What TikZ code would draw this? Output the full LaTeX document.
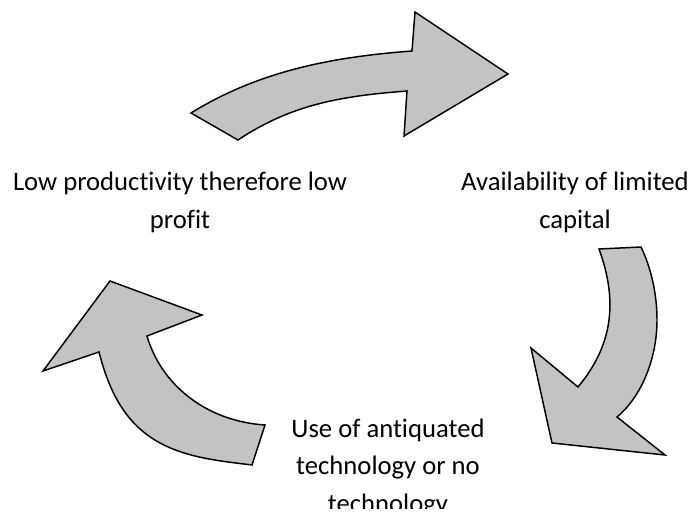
\documentclass[tikz,border=0pt]{standalone}
\usepackage{fontspec}
\setmainfont{Carlito}[Ligatures=NoCommon]
\usepackage{tikz}
\definecolor{arrowfill}{HTML}{C3C3C3}
\definecolor{ink}{HTML}{000000}
\tikzset{
  cyc/.style={draw=ink, fill=arrowfill, line width=1.1pt},
  lab/.style={text=ink, align=center, inner sep=0pt, anchor=base,
    font=\fontsize{20pt}{28pt}\selectfont},
}

\begin{document}
\begin{tikzpicture}[x=0.75pt,y=-0.75pt]
  \useasboundingbox (0,0) rectangle (692,514);
  \clip (0,0) rectangle (692,508);

  % top arrow
  \draw[cyc] (191,113) .. controls (259,71) and (332,57) .. (412,51)
    -- (415,12) -- (508,74) -- (404,136) -- (407,91)
    .. controls (342,96) and (292,104) .. (238,140) -- cycle;

  % right arrow
  \draw[cyc] (599,249) -- (641,247)
    .. controls (652,270) and (657,296) .. (657,320)
    .. controls (657,358) and (642,396) .. (617,417)
    -- (665,455) -- (552,443) -- (531,348) -- (578,387)
    .. controls (613,345) and (618,301) .. cycle;

  % left arrow
  \draw[cyc] (110,281) -- (202,315) -- (147,336)
    .. controls (161,384) and (205,421) .. (265,425)
    -- (252,465)
    .. controls (220,461) and (188,458) .. (160,443)
    .. controls (125,424) and (109,391) .. (99,352)
    -- (43,371) -- cycle;

  % base anchor sits on the last line
  \node[lab] (profit) at (180,228) {Low productivity therefore low\\profit};
  \node[lab] (capital) at (575,228) {Availability of limited\\capital};
  \node[lab] (tech) at (388,512) {Use of antiquated\\technology or no\\technology};
\end{tikzpicture}
\end{document}
